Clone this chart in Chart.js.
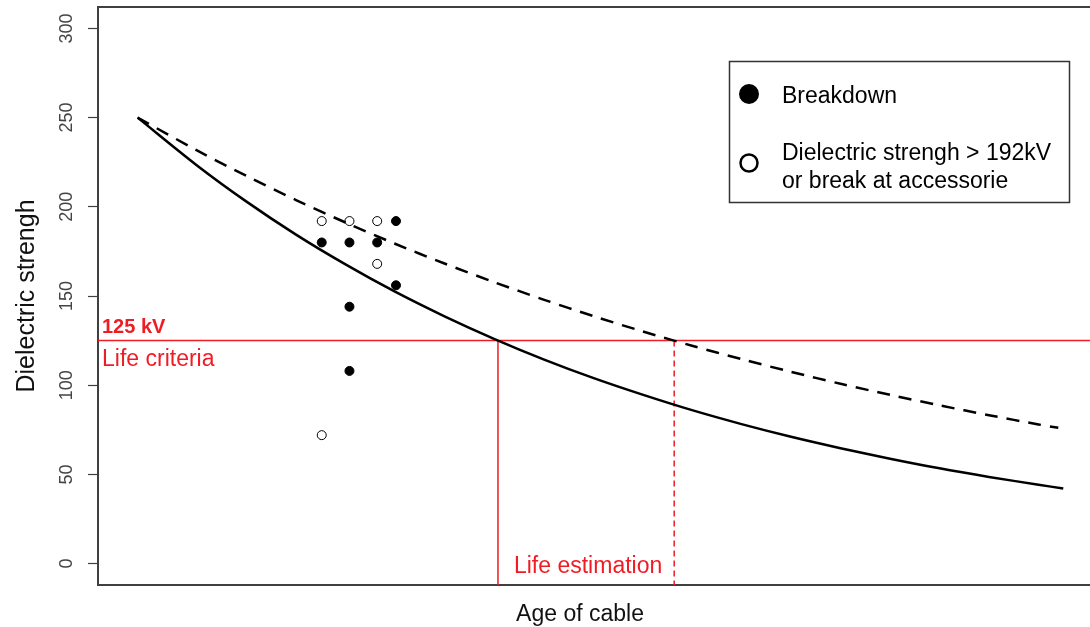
<!DOCTYPE html>
<html>
<head>
<meta charset="utf-8">
<script src="https://cdn.jsdelivr.net/npm/chart.js@4/dist/chart.umd.min.js"></script>
<style>
  html, body { margin: 0; padding: 0; background: #fff; }
  canvas { display: block; }
</style>
</head>
<body>
<canvas id="c" width="1090" height="627"></canvas>
<script>
// ---- data (x in arbitrary age units, y in kV) ----
const solidAges   = [4, 10, 15, 20, 25, 30, 35, 40, 45, 50, 55, 60, 65, 70, 75, 80, 85, 90, 95, 97.5];
const solidValues = [250, 223.2, 202.9, 184.4, 167.7, 152.4, 138.6, 126.0, 114.5, 104.1, 94.7, 86.0, 78.2, 71.1, 64.7, 58.8, 53.4, 48.6, 44.2, 42.1];
const dashedAges   = [4, 10, 15, 20, 25, 30, 35, 40, 45, 50, 55, 60, 65, 70, 75, 80, 85, 90, 95, 97];
const dashedValues = [250, 231.6, 217.3, 203.8, 191.2, 179.3, 168.2, 157.8, 148.0, 138.8, 130.2, 122.1, 114.6, 107.5, 100.8, 94.6, 88.7, 83.2, 78.0, 76.1];
const breakdownAges   = [22.6, 25.4, 25.4, 25.4, 28.2, 30.1, 30.1];
const breakdownValues = [180, 180, 144, 108, 180, 192, 156];
const openAges   = [22.6, 22.6, 25.4, 28.2, 28.2];
const openValues = [192, 72, 192, 192, 168];
const lifeCriteria = 125;
const lifeAgeSolid = 40.4;
const lifeAgeDashed = 58.2;
const yTickValues = [0, 50, 100, 150, 200, 250, 300];
const xRange = [0, 100.2];
const yRange = [-12, 312];
const breakdownLabel = 'Breakdown';
const openLabel = ['Dielectric strengh > 192kV', 'or break at accessorie'];
const xTitle = 'Age of cable';
const yTitle = 'Dielectric strengh';

const RED = 'rgb(240,28,36)';
const AXIS = '#404040';
const FONT = "'Liberation Sans', Arial, sans-serif";
Chart.defaults.font.family = FONT;

const pts = (xs, ys) => xs.map((x, i) => ({x, y: ys[i]}));

const overlay = {
  id: 'overlay',
  afterDatasetsDraw(chart) {
    const {ctx, chartArea, scales: {x, y}} = chart;
    ctx.save();
    // top frame line
    ctx.strokeStyle = AXIS; ctx.lineWidth = 2;
    ctx.beginPath(); ctx.moveTo(chartArea.left, chartArea.top); ctx.lineTo(chart.width, chartArea.top); ctx.stroke();
    // rotated y tick labels
    ctx.fillStyle = '#444';
    ctx.font = '18px ' + FONT;
    ctx.textAlign = 'center'; ctx.textBaseline = 'alphabetic';
    yTickValues.forEach(v => {
      ctx.save();
      ctx.translate(72, y.getPixelForValue(v));
      ctx.rotate(-Math.PI / 2);
      ctx.fillText(String(v), 0, 0);
      ctx.restore();
    });
    // x axis title
    ctx.fillStyle = '#111';
    ctx.font = '23px ' + FONT;
    ctx.fillText(xTitle, 580, 621);
    // red annotations
    const yc = y.getPixelForValue(lifeCriteria);
    ctx.fillStyle = RED; ctx.textAlign = 'left';
    ctx.font = 'bold 20px ' + FONT;
    ctx.fillText(lifeCriteria + ' kV', chartArea.left + 4, yc - 8);
    ctx.font = '23px ' + FONT;
    ctx.fillText('Life criteria', chartArea.left + 4, yc + 25);
    ctx.fillText('Life estimation', x.getPixelForValue(lifeAgeSolid) + 16, chartArea.bottom - 12);
    // legend
    ctx.strokeStyle = '#333'; ctx.lineWidth = 1.5;
    ctx.strokeRect(729.5, 61.5, 340, 141);
    ctx.fillStyle = '#000';
    ctx.beginPath(); ctx.arc(749, 94, 10, 0, Math.PI * 2); ctx.fill();
    ctx.strokeStyle = '#000'; ctx.lineWidth = 2.5;
    ctx.beginPath(); ctx.arc(749, 163, 8.5, 0, Math.PI * 2); ctx.stroke();
    ctx.font = '23px ' + FONT;
    ctx.fillStyle = '#000';
    ctx.fillText(breakdownLabel, 782, 103);
    ctx.fillText(openLabel[0], 782, 160);
    ctx.fillText(openLabel[1], 782, 188);
    ctx.restore();
  }
};

new Chart(document.getElementById('c'), {
  type: 'scatter',
  data: {
    datasets: [
      { label: 'model', type: 'line', data: pts(solidAges, solidValues), borderColor: '#000', borderWidth: 2.5, pointRadius: 0, tension: 0.3, fill: false },
      { label: 'model upper', type: 'line', data: pts(dashedAges, dashedValues), borderColor: '#000', borderWidth: 2.5, borderDash: [13, 9], pointRadius: 0, tension: 0.3, fill: false },
      { label: breakdownLabel, data: pts(breakdownAges, breakdownValues), pointRadius: 4.5, backgroundColor: '#000', borderColor: '#000', borderWidth: 1 },
      { label: openLabel.join(' '), data: pts(openAges, openValues), pointRadius: 4.5, backgroundColor: '#fff', borderColor: '#000', borderWidth: 1 },
      { label: 'criteria', type: 'line', data: [{x: xRange[0], y: lifeCriteria}, {x: xRange[1], y: lifeCriteria}], borderColor: RED, borderWidth: 1.5, pointRadius: 0 },
      { label: 'life solid', type: 'line', data: [{x: lifeAgeSolid, y: lifeCriteria}, {x: lifeAgeSolid, y: yRange[0]}], borderColor: RED, borderWidth: 1.5, pointRadius: 0 },
      { label: 'life dashed', type: 'line', data: [{x: lifeAgeDashed, y: lifeCriteria}, {x: lifeAgeDashed, y: yRange[0]}], borderColor: RED, borderWidth: 1.5, borderDash: [6, 4], pointRadius: 0 }
    ]
  },
  options: {
    responsive: false,
    animation: false,
    devicePixelRatio: 1,
    layout: { autoPadding: false, padding: { top: 7, left: 0, right: 0, bottom: 0 } },
    plugins: { legend: { display: false }, tooltip: { enabled: false } },
    scales: {
      x: {
        type: 'linear', min: xRange[0], max: xRange[1],
        ticks: { display: false },
        grid: { display: false },
        border: { display: true, color: AXIS, width: 2 },
        title: { display: false },
        afterFit(scale) { scale.height = 42; }
      },
      y: {
        type: 'linear', min: yRange[0], max: yRange[1],
        afterBuildTicks(scale) { scale.ticks = yTickValues.map(v => ({value: v})); },
        ticks: { display: false },
        grid: { display: true, drawOnChartArea: false, drawTicks: true, tickLength: 10, color: AXIS, tickColor: AXIS, tickWidth: 1.2 },
        border: { display: true, color: AXIS, width: 2 },
        title: { display: true, text: yTitle, color: '#111', font: { size: 25 }, padding: { top: 12, bottom: 0 } },
        afterFit(scale) { scale.width = 98; }
      }
    }
  },
  plugins: [overlay]
});
</script>
</body>
</html>
